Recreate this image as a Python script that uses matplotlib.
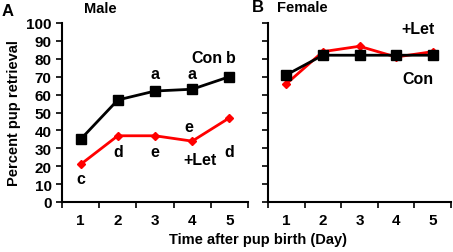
import numpy as np
import matplotlib.pyplot as plt

days = [1, 2, 3, 4, 5]
male_con = [35, 57, 62, 63, 70]
male_let = [21, 37, 37, 34, 47]
female_con = [71, 82, 82, 82, 82]
female_let = [66, 84, 87, 81, 84]

plt.rcParams['font.family'] = ['Liberation Sans', 'DejaVu Sans']
plt.rcParams['font.weight'] = 'bold'

fig = plt.figure(figsize=(4.53, 2.53), dpi=100)
ax1 = fig.add_axes([62/453, 1-203/253, (248-62)/453, (203-24)/253])
ax2 = fig.add_axes([268/453, 1-203/253, (451-268)/453, (203-24)/253])

for ax, con, let in [(ax1, male_con, male_let), (ax2, female_con, female_let)]:
    ax.plot(days, let, color='#ff0000', lw=2, marker='D', ms=4.5, zorder=3)
    ax.plot(days, con, color='black', lw=2, marker='s', ms=6.5, zorder=4)
    ax.set_xlim(0.5, 5.5)
    ax.set_ylim(0, 100)
    ax.set_yticks(np.arange(0, 101, 10))
    ax.set_xticks(days)
    ax.set_xticks(np.arange(0.5, 5.6, 1), minor=True)
    ax.tick_params(axis='x', which='major', length=0, pad=8, labelsize=11)
    ax.tick_params(axis='x', which='minor', length=4, direction='out', width=1.2)
    ax.tick_params(axis='y', length=4, direction='out', width=1.2, labelsize=11)
    for s in ['top', 'right']:
        ax.spines[s].set_visible(False)
    for s in ['left', 'bottom']:
        ax.spines[s].set_linewidth(1.5)

ax2.set_yticklabels([])
ax1.set_ylabel('Percent pup retrieval', fontsize=10.5, fontweight='bold')
fig.text(258/453, 1-240/253, 'Time after pup birth (Day)', ha='center', va='center',
         fontsize=10.5, fontweight='bold')

fs = 11.5
ax1.text(3, 72, 'a', ha='center', va='center', fontsize=fs)
ax1.text(4, 72, 'a', ha='center', va='center', fontsize=fs)
ax1.text(4.4, 81, 'Con', ha='center', va='center', fontsize=fs)
ax1.text(5.05, 81, 'b', ha='center', va='center', fontsize=fs)
ax1.text(1, 13, 'c', ha='center', va='center', fontsize=fs)
ax1.text(2, 28, 'd', ha='center', va='center', fontsize=fs)
ax1.text(3, 28, 'e', ha='center', va='center', fontsize=fs)
ax1.text(3.9, 42, 'e', ha='center', va='center', fontsize=fs)
ax1.text(5.0, 28, 'd', ha='center', va='center', fontsize=fs)
ax1.text(4.2, 24, '+Let', ha='center', va='center', fontsize=fs)
ax2.text(4.6, 97, '+Let', ha='center', va='center', fontsize=fs)
ax2.text(4.6, 69, 'Con', ha='center', va='center', fontsize=fs)

fig.text(8/453, 1-11/253, 'A', ha='center', va='center', fontsize=12, fontweight='bold')
fig.text(100/453, 1-9/253, 'Male', ha='center', va='center', fontsize=10.5, fontweight='bold')
fig.text(258/453, 1-8/253, 'B', ha='center', va='center', fontsize=12, fontweight='bold')
fig.text(302/453, 1-8/253, 'Female', ha='center', va='center', fontsize=10.5, fontweight='bold')

fig.savefig('out.png', dpi=100)
